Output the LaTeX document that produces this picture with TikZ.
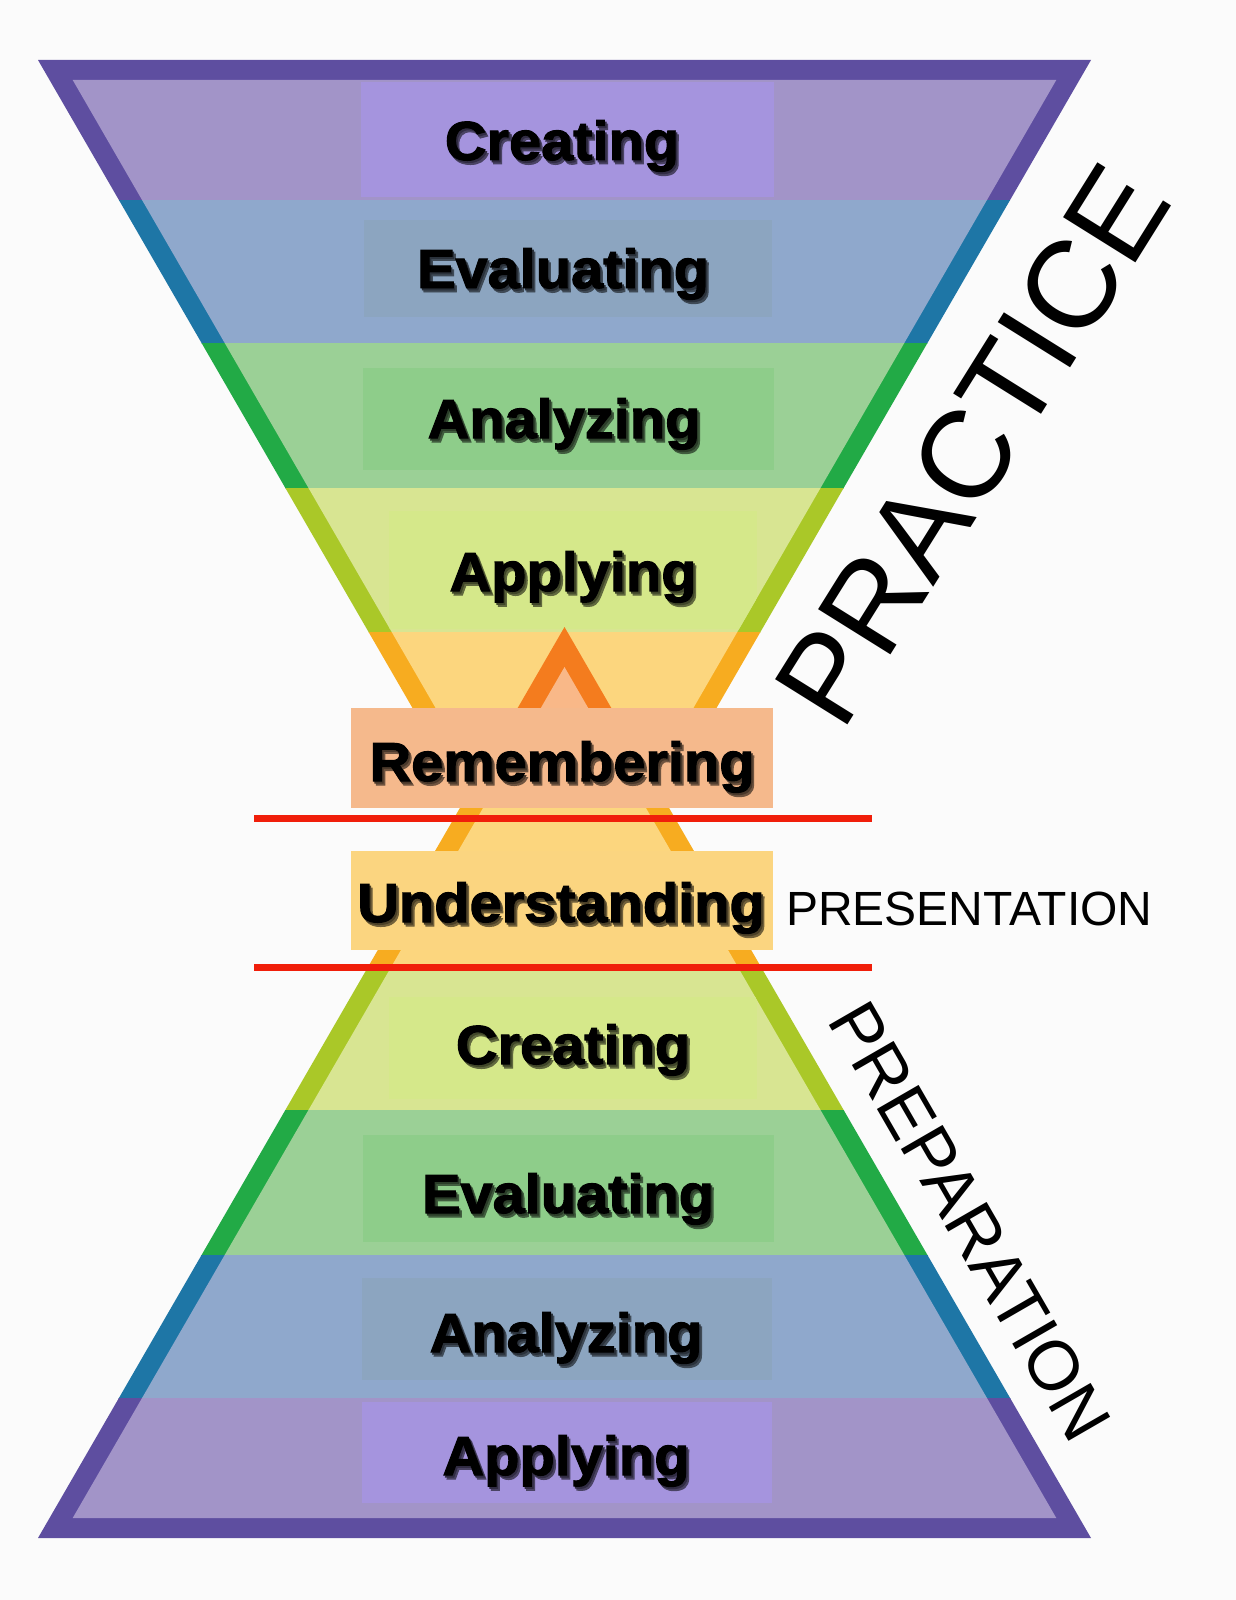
\documentclass[tikz,border=0pt]{standalone}
\usepackage{graphicx}
\usepackage{fontspec}
\setmainfont{Liberation Sans}
\newfontfamily\heavy{Liberation Sans}[BoldFeatures={FakeBold=1.8}]
\definecolor{bgc}{RGB}{251,251,251}
\definecolor{purB}{RGB}{94,78,160}
\definecolor{purF}{RGB}{162,148,200}
\definecolor{purX}{RGB}{165,148,222}
\definecolor{bluB}{RGB}{30,118,166}
\definecolor{bluF}{RGB}{143,168,204}
\definecolor{bluX}{RGB}{140,165,192}
\definecolor{greB}{RGB}{34,170,70}
\definecolor{greF}{RGB}{155,208,150}
\definecolor{greX}{RGB}{142,205,138}
\definecolor{ygrB}{RGB}{170,200,40}
\definecolor{ygrF}{RGB}{216,229,146}
\definecolor{ygrX}{RGB}{213,232,138}
\definecolor{oraB}{RGB}{247,172,32}
\definecolor{oraF}{RGB}{252,214,126}
\definecolor{doraB}{RGB}{244,124,30}
\definecolor{peach}{RGB}{249,184,136}
\definecolor{remC}{RGB}{245,185,140}
\definecolor{undC}{RGB}{251,213,128}
\definecolor{redL}{RGB}{240,30,10}
\newcommand\topband[4]{\begin{scope}\clip (0,#1) rectangle (1236,#2);
  \fill[#3] (38,60) -- (1091,60) -- (564.5,971) -- cycle;
  \fill[#4] (72.7,80) -- (1056.3,80) -- (564.5,931) -- cycle;\end{scope}}
\newcommand\botband[4]{\begin{scope}\clip (0,#1) rectangle (1236,#2);
  \fill[#3] (564.5,627) -- (1091,1538) -- (38,1538) -- cycle;
  \fill[#4] (564.5,667) -- (1056.3,1518) -- (72.7,1518) -- cycle;\end{scope}}
\newcommand\shtxt[2]{\scalebox{1.05}[1]{\rlap{\hspace{3pt}\raisebox{-4pt}{\textcolor{#1!45!black}{#2}}}\rlap{\hspace{1.5pt}\raisebox{-2pt}{\textcolor{#1!30!black}{#2}}}#2}}
\tikzset{
  lbl/.style={anchor=base, inner sep=0pt, font=\heavy\bfseries\fontsize{55}{60}\selectfont, text=black},
  tbox/.style={inner sep=0pt, draw=none},
  thin/.style={inner sep=0pt, text=black}
}
\newcommand\lab[5]{\node[lbl] (#1) at (#2,#3) {\shtxt{#5}{#4}};}
\begin{document}
\begin{tikzpicture}[x=1pt,y=-1pt]
\useasboundingbox (0,0) rectangle (1236,1600);
\fill[bgc] (0,0) rectangle (1236,1600);
% top funnel
\topband{50}{200}{purB}{purF}
\topband{200}{343}{bluB}{bluF}
\topband{343}{488}{greB}{greF}
\topband{488}{632}{ygrB}{ygrF}
\topband{632}{708}{oraB}{oraF}
% subtle label boxes (top)
\begin{scope}
\clip (72.7,80) -- (1056.3,80) -- (564.5,931) -- cycle;
\fill[purX] (361,82) rectangle (774,197);
\fill[bluX] (364,220) rectangle (772,317);
\fill[greX] (363,368) rectangle (774,470);
\fill[ygrX] (389,511) rectangle (757,629);
\end{scope}
% bottom pyramid
\botband{600}{708}{doraB}{peach}
\botband{708}{966}{oraB}{oraF}
\botband{966}{1110}{ygrB}{ygrF}
\botband{1110}{1255}{greB}{greF}
\botband{1255}{1398}{bluB}{bluF}
\botband{1398}{1545}{purB}{purF}
% subtle label boxes (bottom)
\begin{scope}
\clip (564.5,667) -- (1056.3,1518) -- (72.7,1518) -- cycle;
\fill[ygrX] (389,997) rectangle (757,1099);
\fill[greX] (363,1135) rectangle (774,1242);
\fill[bluX] (362,1278) rectangle (772,1380);
\fill[purX] (362,1402) rectangle (772,1503);
\end{scope}
% middle boxes
\node[tbox, fill=remC, minimum width=422pt, minimum height=100pt] (rembox) at (562,758) {};
\node[tbox, fill=undC, minimum width=422pt, minimum height=99pt] (undbox) at (562,900.5) {};
% red lines
\coordinate (r1a) at (254,818); \coordinate (r1b) at (872,818);
\coordinate (r2a) at (254,967); \coordinate (r2b) at (872,967);
\draw[redL, line width=7pt] (r1a) -- (r1b);
\draw[redL, line width=7pt] (r2a) -- (r2b);
% labels
\lab{tcre}{562}{160}{Creating}{purX}
\lab{teva}{563}{288}{Evaluating}{bluX}
\lab{tana}{564}{438}{Analyzing}{greX}
\lab{tapp}{573}{591}{Applying}{ygrX}
\lab{rem}{562}{781}{Remembering}{remC}
\lab{und}{561}{922}{Understanding}{undC}
\lab{bcre}{573}{1064}{Creating}{ygrX}
\lab{beva}{568}{1213}{Evaluating}{greX}
\lab{bana}{566}{1352}{Analyzing}{bluX}
\lab{bapp}{566}{1475}{Applying}{purX}
% side texts
\node[thin, font=\fontsize{124}{130}\selectfont, rotate=58] (practice) at (972,445) {PRACTICE};
\node[thin, font=\fontsize{48}{50}\selectfont, anchor=base west] (presentation) at (786,925) {PRESENTATION};
\node[thin, font=\fontsize{70}{72}\selectfont, rotate=-60] (preparation) at (970,1221) {PREPARATION};
\end{tikzpicture}
\end{document}
